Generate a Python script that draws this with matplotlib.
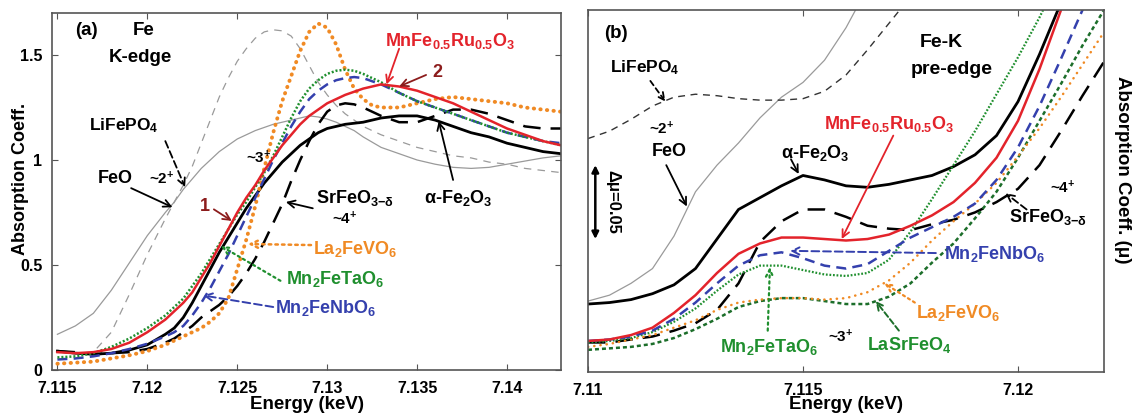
import numpy as np
import matplotlib
matplotlib.use('Agg')
import matplotlib.pyplot as plt

plt.rcParams['font.family'] = ['Liberation Sans', 'DejaVu Sans']
plt.rcParams['font.weight'] = 'bold'
plt.rcParams['mathtext.fontset'] = 'custom'
plt.rcParams['mathtext.rm'] = 'Liberation Sans:bold'
plt.rcParams['mathtext.bf'] = 'Liberation Sans:bold'
plt.rcParams['mathtext.it'] = 'Liberation Sans:bold'
plt.rcParams['mathtext.default'] = 'rm'

nan = np.nan

# ---- panel (a): Fe K-edge XANES ----
ea = [7.115, 7.116, 7.117, 7.118, 7.119, 7.120, 7.121, 7.1215, 7.122, 7.1225,
      7.123, 7.1235, 7.124, 7.1245, 7.125, 7.1255, 7.126, 7.1265, 7.127, 7.1275,
      7.128, 7.1285, 7.129, 7.1295, 7.130, 7.1305, 7.131, 7.1315, 7.132, 7.1325,
      7.133, 7.134, 7.135, 7.136, 7.137, 7.138, 7.139, 7.140, 7.141, 7.142, 7.143]

feo_a = [0.17, 0.21, 0.27, 0.38, 0.51, 0.64, 0.75, 0.80, 0.86, 0.91,
         0.96, 1.00, 1.04, 1.07, 1.10, 1.12, 1.14, 1.155, 1.17, 1.18,
         1.19, 1.20, 1.21, 1.205, 1.195, 1.18, 1.16, 1.14, 1.11, 1.085,
         1.06, 1.03, 1.00, 0.98, 0.965, 0.96, 0.965, 0.98, 0.995, 1.01, 1.02]
lifepo4_a = [0.09, 0.08, 0.085, 0.18, 0.36, 0.55, 0.72, 0.80, 0.88, 0.97,
             1.08, 1.19, 1.30, 1.39, 1.47, 1.53, 1.58, 1.61, 1.62, 1.615,
             1.59, 1.53, 1.45, 1.37, 1.31, 1.26, 1.22, 1.19, 1.16, 1.14,
             1.12, 1.09, 1.06, 1.04, 1.02, 1.01, 0.99, 0.98, 0.96, 0.95, 0.94]
mnferu_a = [0.085, 0.08, 0.085, 0.10, 0.13, 0.18, 0.24, 0.28, 0.32, 0.37,
            0.44, 0.51, 0.59, 0.67, 0.75, 0.82, 0.88, 0.95, 1.01, 1.07,
            1.12, 1.17, 1.21, 1.24, 1.27, 1.29, 1.31, 1.325, 1.34, 1.35,
            1.36, 1.35, 1.33, 1.30, 1.27, 1.23, 1.19, 1.15, 1.12, 1.09, 1.07]
fe2o3_a = [0.09, 0.08, 0.075, 0.08, 0.095, 0.12, 0.17, 0.20, 0.25, 0.32,
           0.40, 0.48, 0.56, 0.63, 0.70, 0.77, 0.83, 0.89, 0.94, 0.99,
           1.03, 1.07, 1.10, 1.13, 1.15, 1.16, 1.17, 1.175, 1.18, 1.19,
           1.20, 1.21, 1.21, 1.19, 1.16, 1.13, 1.11, 1.08, 1.06, 1.04, 1.03]
srfeo3_a = [0.09, 0.085, 0.075, 0.08, 0.085, 0.10, 0.13, 0.15, 0.18, 0.21,
            0.25, 0.28, 0.31, 0.35, 0.40, 0.46, 0.53, 0.61, 0.70, 0.79,
            0.90, 1.00, 1.09, 1.17, 1.23, 1.26, 1.27, 1.265, 1.25, 1.23,
            1.21, 1.18, 1.18, 1.21, 1.24, 1.24, 1.22, 1.19, 1.16, 1.15, 1.15]
la2fevo6_a = [0.03, 0.035, 0.04, 0.055, 0.07, 0.09, 0.12, 0.14, 0.16, 0.18,
              0.20, 0.23, 0.27, 0.34, 0.48, 0.62, 0.78, 0.96, 1.13, 1.28,
              1.40, 1.52, 1.61, 1.65, 1.63, 1.55, 1.43, 1.34, 1.29, 1.26,
              1.25, 1.25, 1.27, 1.29, 1.30, 1.29, 1.28, 1.27, 1.25, 1.24, 1.23]
mn2fetao6_a = [0.06, 0.065, 0.08, 0.11, 0.15, 0.20, 0.26, 0.30, 0.34, 0.40,
               0.46, 0.53, 0.60, 0.67, 0.74, 0.80, 0.87, 0.94, 1.02, 1.11,
               1.20, 1.28, 1.34, 1.38, 1.41, 1.425, 1.43, 1.425, 1.41, 1.39,
               1.37, 1.32, 1.28, 1.25, 1.22, 1.19, 1.16, 1.13, 1.11, 1.09, 1.07]
mn2fenbo6_a = [0.05, 0.055, 0.065, 0.08, 0.10, 0.125, 0.16, 0.18, 0.21, 0.26,
               0.32, 0.39, 0.47, 0.55, 0.64, 0.73, 0.82, 0.91, 1.00, 1.08,
               1.16, 1.23, 1.29, 1.33, 1.36, 1.38, 1.39, 1.395, 1.39, 1.375,
               1.36, 1.32, 1.28, 1.25, 1.22, 1.19, 1.16, 1.13, 1.11, 1.09, 1.08]

xticks_a = [7.115, 7.12, 7.125, 7.13, 7.135, 7.14]
xticklabels_a = ['7.115', '7.12', '7.125', '7.13', '7.135', '7.14']
yticks_a = [0, 0.5, 1, 1.5]
yticklabels_a = ['0', '0.5', '1', '1.5']

# ---- panel (b): pre-edge region ----
eb = [7.1100, 7.1105, 7.1110, 7.1115, 7.1120, 7.1125, 7.1130, 7.1135, 7.1140,
      7.1145, 7.1150, 7.1155, 7.1160, 7.1165, 7.1170, 7.1175, 7.1180, 7.1185,
      7.1190, 7.1195, 7.1200, 7.1205, 7.1210, 7.1215, 7.1220]

feo_b = [0.048, 0.052, 0.060, 0.070, 0.092, 0.122, 0.140, 0.155, 0.172,
         0.186, 0.196, 0.211, 0.233, 0.260, nan, nan, nan, nan,
         nan, nan, nan, nan, nan, nan, nan]
lifepo4_b = [0.158, 0.163, 0.171, 0.180, 0.186, 0.188, 0.187, 0.185, 0.184,
             0.184, 0.185, 0.190, 0.201, 0.218, 0.236, 0.254, nan, nan,
             nan, nan, nan, nan, nan, nan, nan]
fe2o3_b = [0.046, 0.047, 0.049, 0.053, 0.059, 0.070, 0.090, 0.110, 0.118,
           0.126, 0.133, 0.130, 0.126, 0.125, 0.127, 0.130, 0.133, 0.139,
           0.147, 0.160, 0.183, 0.215, 0.250, nan, nan]
mnferu_b = [0.021, 0.022, 0.025, 0.030, 0.040, 0.052, 0.067, 0.080, 0.087,
            0.091, 0.091, 0.090, 0.089, 0.090, 0.093, 0.099, 0.106, 0.115,
            0.128, 0.145, 0.170, 0.205, 0.245, 0.290, nan]
mn2fenbo6_b = [0.021, 0.022, 0.024, 0.028, 0.036, 0.047, 0.060, 0.072, 0.079,
               0.081, 0.077, 0.072, 0.070, 0.073, 0.082, 0.091, 0.098, 0.105,
               0.114, 0.130, 0.152, 0.180, 0.212, 0.245, 0.280]
mn2fetao6_b = [0.020, 0.021, 0.023, 0.027, 0.034, 0.043, 0.055, 0.066, 0.072,
               0.072, 0.069, 0.066, 0.065, 0.067, 0.076, 0.095, 0.117, 0.140,
               0.163, 0.188, 0.213, 0.240, 0.270, nan, nan]
la2fevo6_b = [0.017, 0.019, 0.022, 0.025, 0.030, 0.035, 0.042, 0.047, 0.049,
              0.050, 0.050, 0.049, 0.050, 0.054, 0.062, 0.074, 0.089, 0.102,
              0.114, 0.128, 0.146, 0.165, 0.186, 0.208, 0.230]
lasrfeo4_b = [0.015, 0.016, 0.017, 0.019, 0.023, 0.029, 0.036, 0.044, 0.048,
              0.050, 0.050, 0.048, 0.046, 0.046, 0.051, 0.060, 0.074, 0.087,
              0.104, 0.122, 0.145, 0.170, 0.195, 0.221, 0.245]
srfeo3_b = [0.020, 0.020, 0.022, 0.024, 0.028, 0.033, 0.042, 0.060, 0.088,
            0.102, 0.110, 0.110, 0.105, 0.099, 0.097, 0.096, 0.100, 0.103,
            0.108, 0.115, 0.124, 0.140, 0.163, 0.187, 0.210]

xticks_b = [7.11, 7.115, 7.12]
xticklabels_b = ['7.11', '7.115', '7.12']

RED = '#e3232b'
DRED = '#8c1c1c'
ORANGE = '#f08a24'
GREEN = '#1f8f2e'
DGREEN = '#1c6e2a'
BLUE = '#3440ad'
GRAY = '#9a9a9a'

fig = plt.figure(figsize=(11.32, 4.16), dpi=100)
ax1 = fig.add_axes([52/1132, 1-370/416, 509/1132, 357/416])
ax2 = fig.add_axes([588/1132, 1-372/416, 516/1132, 362/416])

# ---- draw panel (a) ----
ax1.plot(ea, feo_a, color=GRAY, lw=0.9)
ax1.plot(ea, lifepo4_a, color=GRAY, lw=0.9, dashes=(6, 5))
ax1.plot(ea, srfeo3_a, color='k', lw=1.8, dashes=(7, 4))
ax1.plot(ea, fe2o3_a, color='k', lw=2.0)
ax1.plot(ea, la2fevo6_a, color=ORANGE, lw=2.8, dashes=(0.1, 1.6), dash_capstyle='round')
ax1.plot(ea, mn2fenbo6_a, color=BLUE, lw=1.8, dashes=(4, 2.5))
ax1.plot(ea, mn2fetao6_a, color=GREEN, lw=1.8, dashes=(0.8, 0.8))
ax1.plot(ea, mnferu_a, color=RED, lw=1.8)

ax1.set_xlim(7.1147, 7.143)
ax1.set_ylim(0, 1.70)
ax1.set_xticks(xticks_a)
ax1.set_xticklabels(xticklabels_a)
ax1.set_yticks(yticks_a)
ax1.set_yticklabels(yticklabels_a)
ax1.set_xlabel('Energy (keV)', fontsize=13.5, fontweight='bold')
ax1.xaxis.set_label_coords(0.5, -0.073)
ax1.set_ylabel('Absorption Coeff.', fontsize=13, fontweight='bold')
ax1.yaxis.set_label_coords(-0.045, 0.535)

def arrow(ax, text, tip, start, color='k', ls='-', lw=1.3, **kw):
    ax.annotate(text, xy=tip, xytext=start, color=color,
                arrowprops=dict(arrowstyle='->', color=color, lw=lw, ls=ls,
                                shrinkA=0, shrinkB=0, mutation_scale=13), **kw)

ax1.text(7.1160, 1.617, '(a)', fontsize=13.5, va='center', ha='left')
ax1.text(7.1198, 1.617, 'Fe', fontsize=13.5, va='center', ha='center')
ax1.text(7.1196, 1.49, 'K-edge', fontsize=13.5, va='center', ha='center')

ax1.text(7.1332, 1.545, 'MnFe$_{0.5}$Ru$_{0.5}$O$_{3}$', color=RED, fontsize=13, ha='left', va='baseline')
arrow(ax1, '', (7.1333, 1.36), (7.1340, 1.53), color=RED)
ax1.text(7.1361, 1.415, '2', color=DRED, fontsize=13, ha='center', va='center')
arrow(ax1, '', (7.1340, 1.35), (7.1355, 1.405), color=DRED)
ax1.text(7.1232, 0.78, '1', color=DRED, fontsize=13, ha='center', va='center')
arrow(ax1, '', (7.1247, 0.71), (7.1237, 0.765), color=DRED)

ax1.text(7.1187, 1.165, 'LiFePO$_{4}$', fontsize=12.5, ha='center', va='center')
arrow(ax1, '', (7.1221, 0.87), (7.1210, 1.09), ls=(0, (4, 2)))
ax1.text(7.1208, 0.91, '~2$^{+}$', fontsize=11, ha='center', va='center')
ax1.text(7.1182, 0.91, 'FeO', fontsize=13, ha='center', va='center')
arrow(ax1, '', (7.1214, 0.775), (7.1191, 0.866))
ax1.text(7.1262, 1.01, '~3$^{+}$', fontsize=11, ha='center', va='center')

ax1.text(7.1294, 0.82, 'SrFeO$_{3{-}δ}$', fontsize=13, ha='left', va='center')
ax1.text(7.1310, 0.72, '~4$^{+}$', fontsize=11, ha='center', va='center')
arrow(ax1, '', (7.1277, 0.80), (7.1292, 0.77))
ax1.text(7.1373, 0.82, 'α-Fe$_{2}$O$_{3}$', fontsize=13, ha='center', va='center')
arrow(ax1, '', (7.1362, 1.185), (7.1370, 0.905))

ax1.text(7.1292, 0.575, 'La$_{2}$FeVO$_{6}$', color=ORANGE, fontsize=13, ha='left', va='center')
arrow(ax1, '', (7.1256, 0.60), (7.1291, 0.595), color=ORANGE, ls=':', lw=1.8)
ax1.text(7.1277, 0.435, 'Mn$_{2}$FeTaO$_{6}$', color=GREEN, fontsize=13, ha='left', va='center')
arrow(ax1, '', (7.1241, 0.59), (7.1274, 0.425), color=GREEN, ls=':', lw=1.6)
ax1.text(7.1271, 0.295, 'Mn$_{2}$FeNbO$_{6}$', color=BLUE, fontsize=13, ha='left', va='center')
arrow(ax1, '', (7.1231, 0.355), (7.1270, 0.30), color=BLUE, ls=(0, (4, 2)), lw=1.4)

# ---- draw panel (b) ----
ax2.plot(eb, feo_b, color=GRAY, lw=0.9)
ax2.plot(eb, lifepo4_b, color='#333333', lw=1.0, dashes=(5, 4))
ax2.plot(eb, srfeo3_b, color='k', lw=1.8, dashes=(7, 4))
ax2.plot(eb, fe2o3_b, color='k', lw=2.0)
ax2.plot(eb, lasrfeo4_b, color=DGREEN, lw=1.8, dashes=(1.6, 1.2))
ax2.plot(eb, la2fevo6_b, color=ORANGE, lw=1.8, dashes=(0.1, 2.4), dash_capstyle='round')
ax2.plot(eb, mn2fetao6_b, color=GREEN, lw=1.6, dashes=(0.8, 0.8))
ax2.plot(eb, mn2fenbo6_b, color=BLUE, lw=1.8, dashes=(4, 2.5))
ax2.plot(eb, mnferu_b, color=RED, lw=1.8)

ax2.set_xlim(7.11, 7.122)
ax2.set_ylim(0, 0.245)
ax2.set_xticks(xticks_b)
ax2.set_xticklabels(xticklabels_b)
ax2.set_yticks([])
ax2.set_xlabel('Energy (keV)', fontsize=13.5, fontweight='bold')
ax2.xaxis.set_label_coords(0.5, -0.066)
ax2.yaxis.set_label_position('right')
ax2.set_ylabel('Absorption Coeff. (μ)', fontsize=13.5, fontweight='bold', rotation=270)
ax2.yaxis.set_label_coords(1.052, 0.558)

ax2.text(7.11037, 0.229, '(b)', fontsize=13.5, ha='left', va='center')
ax2.text(7.11821, 0.223, 'Fe-K', fontsize=14, ha='center', va='center')
ax2.text(7.11846, 0.205, 'pre-edge', fontsize=14, ha='center', va='center')

ax2.text(7.11133, 0.206, 'LiFePO$_{4}$', fontsize=12.5, ha='center', va='center')
arrow(ax2, '', (7.1118, 0.183), (7.11145, 0.197), ls=(0, (3, 2)))
ax2.text(7.11172, 0.165, '~2$^{+}$', fontsize=11, ha='center', va='center')
ax2.text(7.11189, 0.149, 'FeO', fontsize=13, ha='center', va='center')
arrow(ax2, '', (7.1123, 0.112), (7.11182, 0.140))

ax2.annotate('', xy=(7.11017, 0.09), xytext=(7.11017, 0.14),
             arrowprops=dict(arrowstyle='<|-|>', color='k', lw=1.8,
                             shrinkA=0, shrinkB=0, mutation_scale=10))
ax2.text(7.11058, 0.115, 'Δμ=0.05', fontsize=12, rotation=270,
         ha='center', va='center')

ax2.text(7.11529, 0.148, 'α-Fe$_{2}$O$_{3}$', fontsize=13, ha='center', va='center')
arrow(ax2, '', (7.1149, 0.134), (7.11472, 0.144))

ax2.text(7.1155, 0.168, 'MnFe$_{0.5}$Ru$_{0.5}$O$_{3}$', color=RED, fontsize=13, ha='left', va='center')
arrow(ax2, '', (7.1159, 0.090), (7.1171, 0.160), color=RED)

ax2.text(7.12104, 0.125, '~4$^{+}$', fontsize=11, ha='center', va='center')
ax2.text(7.1198, 0.105, 'SrFeO$_{3{-}δ}$', fontsize=13, ha='left', va='center')
arrow(ax2, '', (7.11971, 0.121), (7.1202, 0.110), ls=(0, (4, 2)))

ax2.text(7.11829, 0.080, 'Mn$_{2}$FeNbO$_{6}$', color=BLUE, fontsize=13, ha='left', va='center')
arrow(ax2, '', (7.1147, 0.082), (7.11809, 0.0805), color=BLUE, ls=(0, (4, 2)), lw=1.4)
ax2.text(7.11762, 0.040, 'La$_{2}$FeVO$_{6}$', color=ORANGE, fontsize=13, ha='left', va='center')
arrow(ax2, '', (7.11689, 0.060), (7.1176, 0.047), color=ORANGE, ls=':', lw=1.6)
ax2.text(7.11649, 0.018, 'LaSrFeO$_{4}$', color=GREEN, fontsize=13, ha='left', va='center')
arrow(ax2, '', (7.11669, 0.048), (7.11723, 0.028), color=DGREEN, ls=(0, (3, 1.5)), lw=1.4)
ax2.text(7.11307, 0.017, 'Mn$_{2}$FeTaO$_{6}$', color=GREEN, fontsize=13, ha='left', va='center')
arrow(ax2, '', (7.11423, 0.071), (7.11418, 0.028), color=GREEN, ls=':', lw=1.6)
ax2.text(7.11588, 0.024, '~3$^{+}$', fontsize=11, ha='center', va='center')

for ax in (ax1, ax2):
    for s in ax.spines.values():
        s.set_color('#555555')
        s.set_linewidth(1.2)
    ax.tick_params(direction='in', top=True, right=(ax is ax1), length=4,
                   labelsize=11.5, colors='#555555', labelcolor='k')
    ax.tick_params(axis='x', pad=8)
    ax.tick_params(axis='y', pad=7)
    for lab in ax.get_xticklabels() + ax.get_yticklabels():
        lab.set_fontweight('bold')

fig.savefig('out.png', dpi=100)
